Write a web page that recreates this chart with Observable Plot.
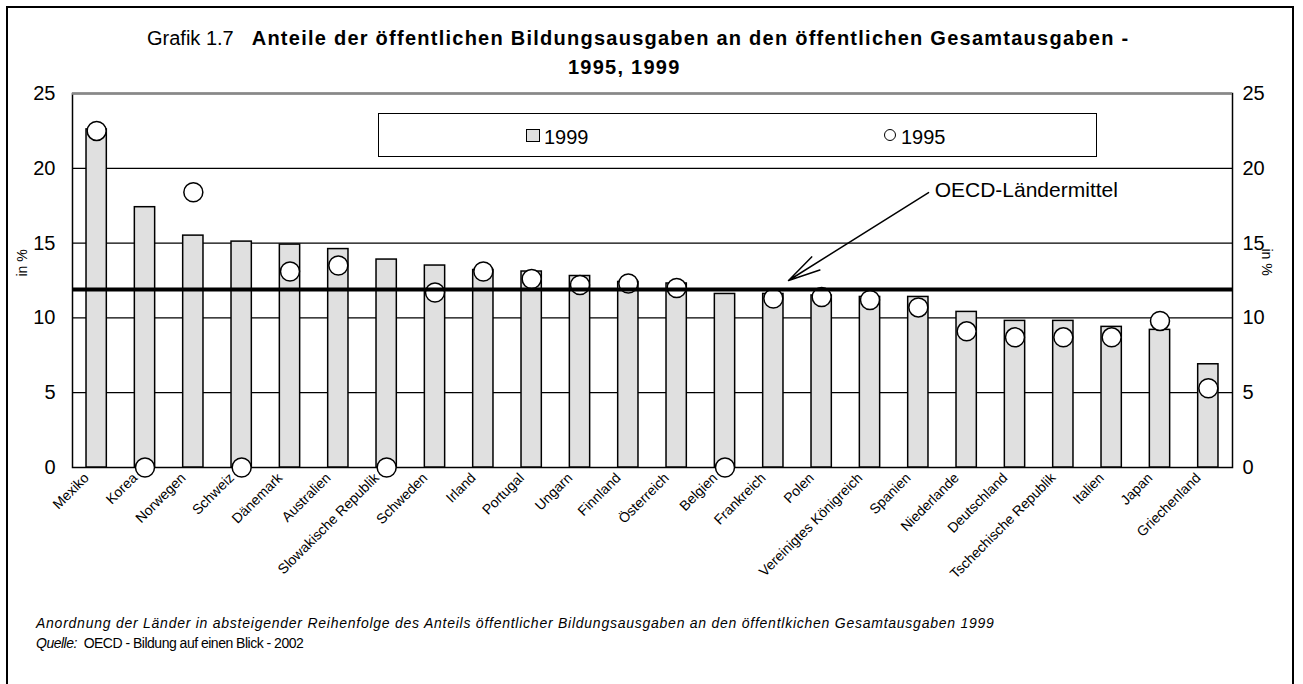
<!DOCTYPE html>
<html><head><meta charset="utf-8">
<script src="https://cdn.jsdelivr.net/npm/d3@7"></script>
<script src="https://cdn.jsdelivr.net/npm/@observablehq/plot@0.6"></script>
<style>
body{margin:0;background:#fff;font-family:"Liberation Sans",Arial,sans-serif;color:#000;}
#page{position:relative;width:1303px;height:684px;overflow:hidden;}
#frame{position:absolute;left:6px;top:6px;width:1284px;height:740px;border:2px solid #000;}
#chart{position:absolute;left:0;top:0;}
.abs{position:absolute;white-space:nowrap;line-height:1;}
#t1{left:147px;top:28px;font-size:20px;}
#t1 b{letter-spacing:1.25px;margin-left:18px;}
#t2{left:568px;top:57px;font-size:20px;font-weight:bold;letter-spacing:1.25px;}
#legend{position:absolute;left:378px;top:113px;width:717px;height:42px;border:1.5px solid #000;background:#fff;}
.lg{font-size:20px;top:127px;}
#sq{position:absolute;left:526px;top:129px;width:12px;height:11px;background:#e0e0e0;border:1px solid #000;}
#ci{position:absolute;left:884px;top:129px;width:10px;height:10px;border-radius:50%;background:#fff;border:1.5px solid #000;}
.ylab{font-size:14px;}
#note1{left:36px;top:616px;font-size:14px;font-style:italic;letter-spacing:0.75px;}
#note2{left:36px;top:636px;font-size:14px;letter-spacing:-0.5px;}
</style></head>
<body><div id="page">
<div id="frame"></div>
<div id="chart"></div>
<div id="t1" class="abs">Grafik 1.7<b>Anteile der öffentlichen Bildungsausgaben an den öffentlichen Gesamtausgaben -</b></div>
<div id="t2" class="abs">1995, 1999</div>
<div id="legend"></div>
<div id="sq"></div><div class="abs lg" style="left:544px">1999</div>
<div id="ci"></div><div class="abs lg" style="left:901px">1995</div>
<div class="abs ylab" style="left:8px;top:256px;transform:rotate(-90deg);">in %</div>
<div class="abs ylab" style="left:1253px;top:255px;transform:rotate(90deg);">in %</div>
<div id="note1" class="abs">Anordnung der Länder in absteigender Reihenfolge des Anteils öffentlicher Bildungsausgaben an den öffentlkichen Gesamtausgaben 1999</div>
<div id="note2" class="abs"><i>Quelle:</i>&nbsp; OECD - Bildung auf einen Blick - 2002</div>
</div>
<script>
const countries = ["Mexiko","Korea","Norwegen","Schweiz","Dänemark","Australien","Slowakische Republik","Schweden","Irland","Portugal","Ungarn","Finnland","Österreich","Belgien","Frankreich","Polen","Vereinigtes Königreich","Spanien","Niederlande","Deutschland","Tschechische Republik","Italien","Japan","Griechenland"];
const values1999 = [22.6,17.4,15.5,15.1,14.9,14.6,13.9,13.5,13.2,13.1,12.8,12.4,12.3,11.6,11.6,11.5,11.4,11.4,10.4,9.8,9.8,9.4,9.2,6.9];
const values1995 = [22.5,0,18.4,0,13.1,13.5,0,11.7,13.1,12.6,12.2,12.3,12.0,0,11.3,11.4,11.2,10.7,9.1,8.7,8.7,8.7,9.8,5.3];
const oecdMean = 11.9;
const yTicks = [0,5,10,15,20,25];
const yGrid = [5,10,15,20];
const meanLabel = "OECD-Ländermittel";
const arrowFrom = "Niederlande", arrowTo = "Frankreich";
const arrowY1 = 19.98, arrowY2 = 11.86, labelY = 18.5;

const rows = countries.map((c,i)=>({country:c, v1999:values1999[i], v1995:values1995[i]}));
const arrowData = [{x1:arrowFrom, x2:arrowTo, y1:arrowY1, y2:arrowY2}];

const chart = Plot.plot({
  width:1303, height:600,
  marginLeft:72, marginRight:71, marginTop:93, marginBottom:133,
  style:{fontFamily:"Liberation Sans, Arial, sans-serif", background:"transparent", fontSize:"20px", color:"#000"},
  x:{domain:countries, paddingInner:0.58, paddingOuter:0.29, round:false, label:null},
  y:{domain:[0,25], label:null},
  marks:[
    Plot.ruleY(yGrid, {stroke:"#000", strokeWidth:1.3}),
    Plot.frame({stroke:"#000", strokeWidth:1.5}),
    Plot.ruleY([25], {stroke:"#888", strokeWidth:2.5}),
    Plot.barY(rows, {x:"country", y:"v1999", fill:"#e0e0e0", stroke:"#000", strokeWidth:1.5}),
    Plot.dot(rows, {x:"country", y:"v1995", r:9.5, fill:"#fff", stroke:"#000", strokeWidth:1.5}),
    Plot.ruleY([oecdMean], {stroke:"#000", strokeWidth:4}),
    Plot.axisY({anchor:"left", ticks:yTicks, tickSize:0, tickPadding:17, fontSize:20, label:null}),
    Plot.axisY({anchor:"right", ticks:yTicks, tickSize:0, tickPadding:10, fontSize:20, label:null}),
    Plot.axisX({tickRotate:-45, tickSize:0, tickPadding:8, fontSize:14, dx:-10, label:null}),
    Plot.arrow(arrowData, {x1:"x1", x2:"x2", y1:"y1", y2:"y2", stroke:"#000", strokeWidth:1.5, headLength:33, headAngle:27, insetStart:45, insetEnd:18}),
    Plot.text([meanLabel], {x:()=>arrowFrom, y:()=>labelY, text:d=>d, textAnchor:"start", dx:-32, fontSize:21, fill:"#000"})
  ]
});
document.getElementById("chart").appendChild(chart);
</script>
</body></html>
